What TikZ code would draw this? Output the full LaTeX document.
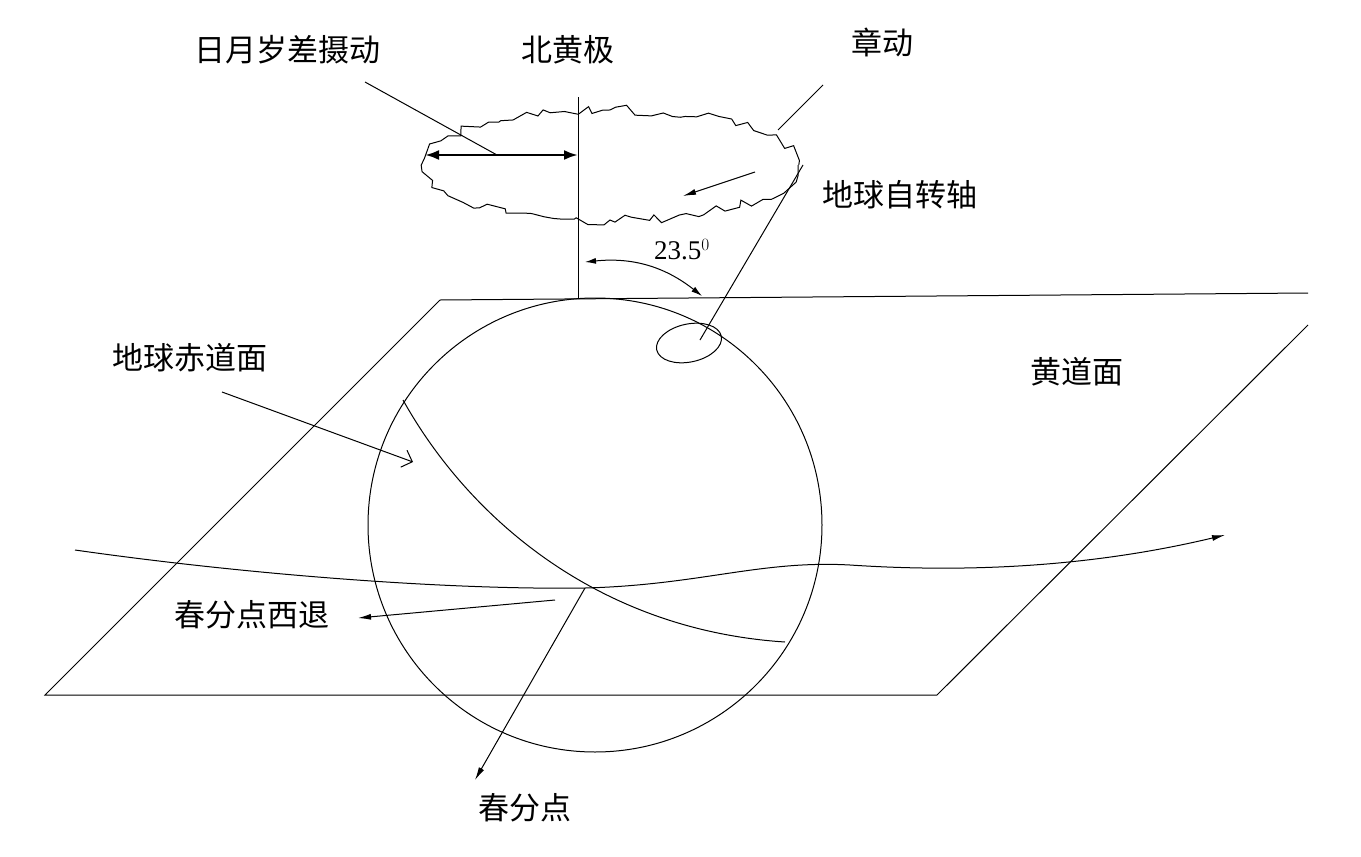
\documentclass[tikz,border=0pt]{standalone}
\usepackage{fontspec}
\setmainfont{Liberation Serif}
\newfontfamily\cjk{Noto Sans CJK SC}
\usetikzlibrary{decorations.pathmorphing,arrows.meta,shapes.geometric}
\begin{document}
\begin{tikzpicture}[x=1pt,y=-1pt,line width=1pt,
 lbl/.style={font=\cjk\fontsize{31}{34}\selectfont,inner sep=0pt},
 arr/.style={-{Latex[length=13pt,width=6pt]}}]
\useasboundingbox (0,0) rectangle (1361,857);
% plane
\coordinate (p1) at (440,300); \coordinate (p2) at (1308,293);
\coordinate (p3) at (1308,325); \coordinate (p4) at (937,695); \coordinate (p5) at (45,695);
\draw (p1) -- (p2); \draw (p3) -- (p4) -- (p5) -- (p1);
% sphere
\node[circle,draw,minimum size=454pt,inner sep=0pt,line width=1pt] (earth) at (595,525) {};
% pole
\coordinate (top) at (578,97); \coordinate (base) at (578,298);
\draw (base) -- (top);
% wavy ellipse
\draw[decorate,decoration={random steps,segment length=10pt,amplitude=5pt}] (610,165) ellipse (188 and 55);
\coordinate (da) at (425,155); \coordinate (db) at (578,155);
\draw[line width=2.5pt,{Latex[length=14pt,width=10pt]}-{Latex[length=14pt,width=10pt]}] (da) -- (db);
\node[lbl] (prec) at (287,50) {日月岁差摄动};
\coordinate (pe) at (497,155);
\draw (365,82) -- (pe);
\node[lbl] (np) at (568,50) {北黄极};
\node[lbl] (nut) at (882,42) {章动};
\draw (778,130) -- (823,85);
\node[lbl] (axis) at (900,195) {地球自转轴};
\coordinate (ax1) at (700,340); \coordinate (ax2) at (803,165);
\draw (ax1) -- (ax2);
\draw[arr] (755,172) -- (683,196);
\node[draw,ellipse,minimum width=66pt,minimum height=38pt,inner sep=0pt,rotate=12] (sm) at (689,343) {};
\draw[{Latex[length=11pt,width=6pt]}-{Latex[length=11pt,width=6pt]}] (585,262) to[bend left=22] (702,296);
\node[font=\fontsize{27}{30}\selectfont,inner sep=0pt] (ang) at (682,250) {23.5$^0$};
% equator
\coordinate (eq1) at (403,400); \coordinate (eq2) at (785,642); \coordinate (vp) at (585,588);
\draw (eq1) .. controls (470,520) and (600,630) .. (eq2);
% ecliptic
\draw[arr] (75,550) .. controls (250,575) and (450,590) .. (vp) .. controls (700,585) and (760,560) .. (850,565) .. controls (1000,575) and (1120,560) .. (1225,535);
\node[lbl] (vlab) at (525,808) {春分点};
\draw[arr] (vp) -- (475,780);
\node[lbl] (retro) at (252,615) {春分点西退};
\draw[arr] (555,600) -- (358,618);
\node[lbl] (eqlab) at (190,358) {地球赤道面};
\draw[-{Straight Barb[length=9pt]}] (222,392) -- (413,462);
\node[lbl] (ecl) at (1077,372) {黄道面};
\end{tikzpicture}
\end{document}
